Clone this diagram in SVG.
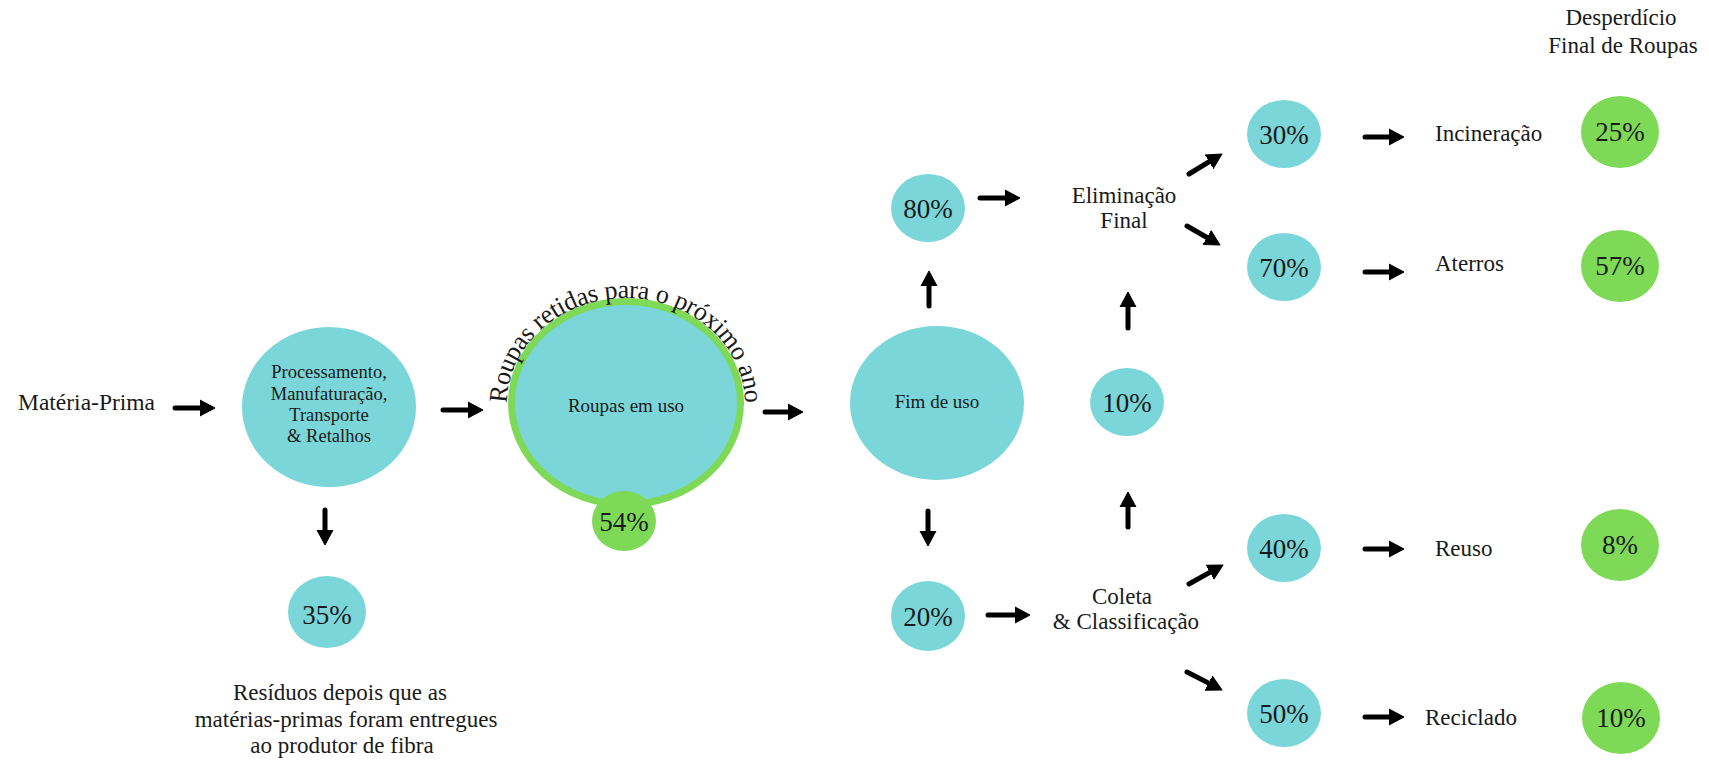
<svg xmlns="http://www.w3.org/2000/svg" width="1709" height="761" viewBox="0 0 1709 761">
<defs>
<style>
.c{fill:#7AD6D8}
.g{fill:#7ED957}
.t{font-family:"Liberation Serif","DejaVu Serif",serif;fill:#1a1a1a;text-anchor:middle}
.pct{font-size:27px}
.lbl{font-size:23px}
.sm{font-size:18.5px}
.ar line{stroke:#000;stroke-width:5;stroke-linecap:round;marker-end:url(#ah)}
</style>
<marker id="ah" markerUnits="userSpaceOnUse" markerWidth="16" markerHeight="18" viewBox="0 0 16 18" refX="5" refY="9" orient="auto">
<path d="M0,1 L15,9 L0,17 z" fill="#000" stroke="#000" stroke-width="1" stroke-linejoin="round"/>
</marker>
<path id="arc" d="M 507,404 A 119,106 0 0 1 745,404" fill="none"/>
</defs>
<rect width="1709" height="761" fill="#fff"/>

<g id="materia-prima"><text class="t" x="18" y="410" style="text-anchor:start;font-size:23.5px">Matéria-Prima</text></g>

<g id="processamento">
<ellipse class="c" cx="329" cy="407" rx="87" ry="80"/>
<text class="t sm" x="329" y="378">Processamento,</text>
<text class="t sm" x="329" y="400">Manufaturação,</text>
<text class="t sm" x="329" y="421">Transporte</text>
<text class="t sm" x="329" y="442">&amp; Retalhos</text>
</g>

<g id="residuos35">
<ellipse class="c" cx="327" cy="612" rx="39" ry="36"/>
<text class="t pct" x="327" y="624">35%</text>
</g>
<g id="residuos-label">
<text class="t lbl" x="340" y="700">Resíduos depois que as</text>
<text class="t lbl" x="346" y="727">matérias-primas foram entregues</text>
<text class="t lbl" x="342" y="753">ao produtor de fibra</text>
</g>

<g id="roupas-em-uso">
<ellipse cx="626" cy="403" rx="114.5" ry="101.5" fill="#7AD6D8" stroke="#7ED957" stroke-width="7"/>
<text class="t" x="626" y="412" style="font-size:19px">Roupas em uso</text>
<text class="t" style="font-size:26px"><textPath href="#arc" startOffset="50%" textLength="352" lengthAdjust="spacing">Roupas retidas para o próximo ano</textPath></text>
</g>
<g id="retidas54">
<ellipse class="g" cx="624" cy="521" rx="32" ry="30"/>
<text class="t pct" x="624" y="531">54%</text>
</g>

<g id="fim-de-uso">
<ellipse class="c" cx="937" cy="403" rx="87" ry="77"/>
<text class="t" x="937" y="408" style="font-size:19px">Fim de uso</text>
</g>

<g id="p80">
<ellipse class="c" cx="928" cy="208" rx="37" ry="34"/>
<text class="t pct" x="928" y="218">80%</text>
</g>
<g id="p20">
<ellipse class="c" cx="928" cy="616" rx="37" ry="35"/>
<text class="t pct" x="928" y="626">20%</text>
</g>
<g id="p10">
<ellipse class="c" cx="1127" cy="402" rx="37" ry="34"/>
<text class="t pct" x="1127" y="412">10%</text>
</g>

<g id="eliminacao">
<text class="t lbl" x="1124" y="203">Eliminação</text>
<text class="t lbl" x="1124" y="228">Final</text>
</g>
<g id="coleta">
<text class="t lbl" x="1122" y="604">Coleta</text>
<text class="t lbl" x="1126" y="629">&amp; Classificação</text>
</g>

<g id="p30">
<ellipse class="c" cx="1284" cy="134" rx="37" ry="34"/>
<text class="t pct" x="1284" y="144">30%</text>
</g>
<g id="p70">
<ellipse class="c" cx="1284" cy="267" rx="37" ry="34"/>
<text class="t pct" x="1284" y="277">70%</text>
</g>
<g id="p40">
<ellipse class="c" cx="1284" cy="548" rx="37" ry="34"/>
<text class="t pct" x="1284" y="558">40%</text>
</g>
<g id="p50">
<ellipse class="c" cx="1284" cy="713" rx="37" ry="34"/>
<text class="t pct" x="1284" y="723">50%</text>
</g>

<g id="incineracao"><text class="t lbl" x="1435" y="141" style="text-anchor:start">Incineração</text></g>
<g id="aterros"><text class="t lbl" x="1435" y="271" style="text-anchor:start">Aterros</text></g>
<g id="reuso"><text class="t lbl" x="1435" y="556" style="text-anchor:start">Reuso</text></g>
<g id="reciclado"><text class="t lbl" x="1425" y="725" style="text-anchor:start">Reciclado</text></g>

<g id="desperdicio-titulo">
<text class="t lbl" x="1621" y="25">Desperdício</text>
<text class="t lbl" x="1623" y="53">Final de Roupas</text>
</g>
<g id="d25">
<ellipse class="g" cx="1620" cy="132" rx="39" ry="36"/>
<text class="t pct" x="1620" y="141">25%</text>
</g>
<g id="d57">
<ellipse class="g" cx="1620" cy="266" rx="39" ry="36"/>
<text class="t pct" x="1620" y="275">57%</text>
</g>
<g id="d8">
<ellipse class="g" cx="1620" cy="545" rx="39" ry="36"/>
<text class="t pct" x="1620" y="554">8%</text>
</g>
<g id="d10">
<ellipse class="g" cx="1621" cy="718" rx="39" ry="36"/>
<text class="t pct" x="1621" y="727">10%</text>
</g>

<g id="connectors" class="ar">
<line x1="175" y1="408" x2="205" y2="408"/>
<line x1="443" y1="410" x2="473" y2="410"/>
<line x1="765" y1="412" x2="793" y2="412"/>
<line x1="325" y1="510" x2="325" y2="535"/>
<line x1="929" y1="306" x2="929" y2="281"/>
<line x1="928" y1="511" x2="928" y2="536"/>
<line x1="980" y1="198" x2="1010" y2="198"/>
<line x1="988" y1="615" x2="1020" y2="615"/>
<line x1="1128" y1="527" x2="1128" y2="502"/>
<line x1="1128" y1="328" x2="1128" y2="302"/>
<line x1="1189" y1="174" x2="1213.4" y2="159.1"/>
<line x1="1187" y1="226" x2="1211.3" y2="240"/>
<line x1="1189" y1="584" x2="1214.3" y2="569.9"/>
<line x1="1187" y1="672" x2="1213.1" y2="685.4"/>
<line x1="1365" y1="137" x2="1394" y2="137"/>
<line x1="1365" y1="272" x2="1394" y2="272"/>
<line x1="1365" y1="549" x2="1394" y2="549"/>
<line x1="1365" y1="717" x2="1394" y2="717"/>
</g>
</svg>
